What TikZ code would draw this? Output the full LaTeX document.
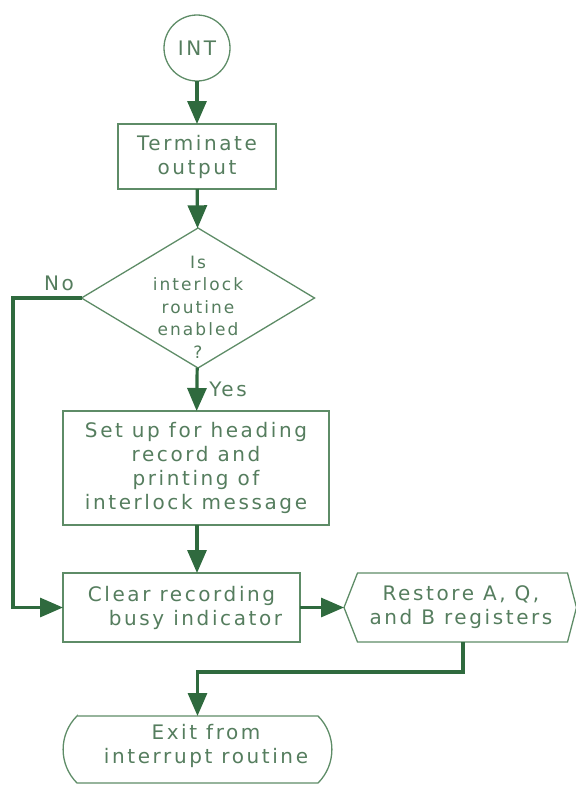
\documentclass[tikz,border=0pt]{standalone}
\usepackage{fontspec}
\newfontfamily\lettering{DejaVu Sans}[LetterSpace=13]
\newfontfamily\smalllettering{DejaVu Sans}[LetterSpace=12]
\usetikzlibrary{arrows.meta,shapes.geometric}
\definecolor{flowline}{HTML}{2F6A3E}
\definecolor{boxline}{HTML}{5E8C67}
\definecolor{inkgreen}{HTML}{557D5E}
\begin{document}
\begin{tikzpicture}[x=1pt,y=-1pt,
  every node/.style={inner sep=0pt, outer sep=0pt,
    font=\lettering\fontsize{20}{24}\selectfont, text=inkgreen},
  outline/.style={draw=boxline, line width=1.3pt},
  procbox/.style={outline, rectangle, align=center},
  flow/.style={draw=flowline, line width=3.2pt,
    -{Triangle[length=23pt,width=19pt]}},
]
\useasboundingbox (0,0) rectangle (576,785);

% terminals and process boxes
\node[outline, circle, minimum size=66pt] (int) at (197,48) {INT};
\node[procbox, minimum width=158pt, minimum height=65pt] (term) at (197,156.5)
  {Terminate\\output};
\node[outline, diamond, minimum width=233pt, minimum height=140pt] (dec) at (198,298) {};
\node[align=center, font=\smalllettering\fontsize{17}{22.5}\selectfont] (dectext) at (198,307)
  {Is\\interlock\\routine\\enabled\\?};
\node[procbox, minimum width=266pt, minimum height=114pt] (setup) at (196,468)
  {Set up for heading\\record and\\printing of\\interlock message};
\node[procbox, minimum width=237pt, minimum height=69pt] (clear) at (181.5,607.5)
  {Clear recording\\\hspace*{1.4em}busy indicator};
\node[minimum width=231pt, minimum height=69pt, align=center] (hex) at (461,607.5)
  {Restore A, Q,\\and B registers};
\draw[outline] ([xshift=-1.5pt]hex.west) -- ([xshift=12pt]hex.north west)
  -- ([xshift=-9pt]hex.north east) -- (hex.east) -- ([xshift=-9pt]hex.south east)
  -- ([xshift=12pt]hex.south west) -- cycle;
% exit terminal: straight top and bottom, arced ends
\node[minimum width=269pt, minimum height=67pt] (exit) at (197.5,749.5) {};
\draw[outline] ([xshift=14pt]exit.north west) -- ([xshift=-14pt]exit.north east)
  arc[start angle=45, end angle=-45, radius=47.4pt]
  -- ([xshift=14pt]exit.south west)
  arc[start angle=225, end angle=135, radius=47.4pt] -- cycle;
\node[align=center] (exittext) at (206,746) {Exit from\\interrupt routine};

% branch labels
\node (nolabel) at (59,283) {No};
\node (yeslabel) at (228,389) {Yes};

% connectors
\coordinate (nocorner) at (13,298);
\draw[flow] (int) -- (term);
\draw[flow] (term) -- (dec);
\draw[flow] (dec) -- (setup);
\draw[flow] (setup.south -| term.south) -- (clear.north -| term.south);
\draw[flow] (dec.west) -- (nocorner) |- (clear.west);
\draw[flow] (clear.east) -- ([xshift=-1.5pt]hex.west);
\draw[flow] (hex.south) ++(2pt,0) -- ++(0,30) -| (exit.north);
\end{tikzpicture}
\end{document}
